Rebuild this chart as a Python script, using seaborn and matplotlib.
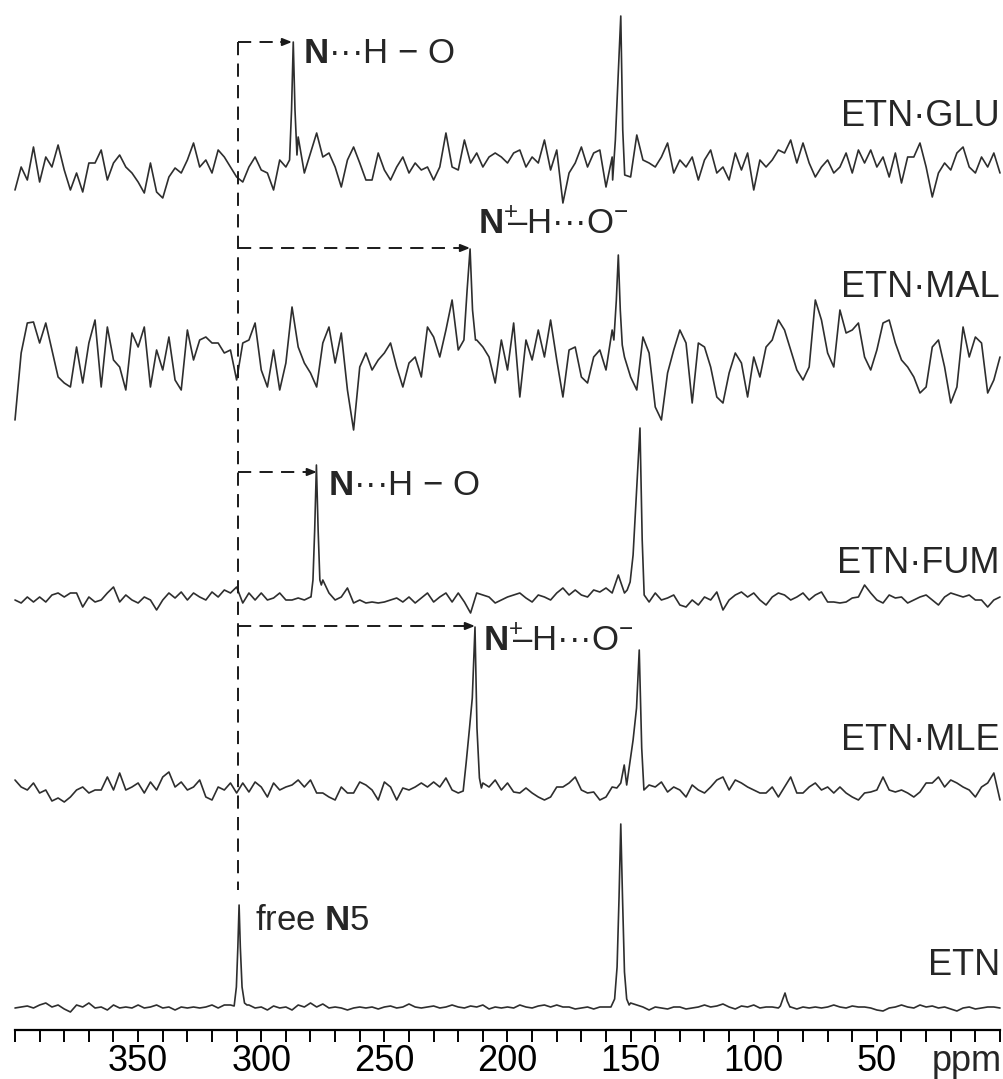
import numpy as np
import pandas as pd
import matplotlib
matplotlib.use("Agg")
import matplotlib.pyplot as plt
import seaborn as sns

# ---------------- data ----------------
# chemical-shift grid (ppm), 400 -> 0 in 2.5 ppm steps
ppm_grid = [400 - 2.5 * i for i in range(161)]

samples = ["ETN·GLU", "ETN·MAL", "ETN·FUM", "ETN·MLE", "ETN"]

# baseline noise (intensity units, one per grid point)
noise_glu = [-20, 3, -10, 23, -12, 13, 3, 25, 0, -20,
             -3, -22, 7, 7, 20, -10, 7, 15, 3, -3,
             -12, -23, 7, -22, -28, -7, 2, -3, 10, 27,
             3, 10, -3, 20, 13, 3, -7, -12, 3, 13,
             0, -3, -20, 10, 3, 0, 33, -3, 17, 37,
             13, 17, 3, -17, 10, 23, 7, -10, -10, 17,
             0, -10, 3, 13, -3, 7, 0, 3, -10, 3,
             37, 3, 0, 30, 7, 17, 3, 13, 17, 13,
             7, 17, 20, 3, 13, 7, 30, 0, 20, -33,
             -3, 7, 23, 3, 17, 20, -17, 13, 0, 0,
             -7, 35, 10, 7, 3, 13, 27, -3, 10, 3,
             13, -10, 10, 20, -3, 3, -10, 17, 0, 17,
             -20, 10, 3, 10, 20, 17, 30, 7, 27, 7,
             -7, 3, 10, -3, 3, 17, -3, 20, 7, 20,
             3, 13, -7, 17, -13, 13, 13, 27, 3, -27,
             -3, 7, 0, 17, 23, 3, -3, 13, 3, 17, -3]

noise_mal = [-70, -3, 27, 28, 7, 27, 0, -27, -33, -37,
             3, -33, 7, 30, -37, 23, -10, -17, -40, 17,
             3, 23, -37, 0, -20, 13, -30, -40, 20, -10,
             10, 13, 7, 7, -3, 0, -30, 7, 10, 27,
             -20, -37, 0, -40, -13, 43, 3, -13, -23, -37,
             7, 23, -13, 17, -40, -80, -17, -3, -20, -10,
             -3, 7, -17, -37, -13, -7, -27, 23, 13, -7,
             20, 50, 0, 17, 0, 10, 3, -7, -33, 10,
             -20, 27, -47, 10, -10, 20, -7, 30, -10, -47,
             0, 3, -27, -33, -7, 0, -20, 20, 0, -7,
             -27, -40, 13, -3, -57, -70, -23, 0, 20, 7,
             -53, 7, 3, -17, -47, -53, -23, -3, -13, -47,
             -7, -27, 3, 10, 30, 20, 0, -20, -30, -17,
             50, 30, -3, -17, 40, 17, 20, 27, -7, -20,
             0, 27, 30, 7, -10, -17, -27, -43, -37, 3,
             10, -17, -53, -37, 23, -7, 13, 7, -43, -30, -7]

noise_fum = [0, -3, 3, -2, 3, -2, 5, 7, 3, 7,
             7, -7, 3, -2, 0, 7, 13, -2, 5, 0,
             -3, 3, 0, -10, 0, 7, 2, 8, 0, 7,
             3, 0, 8, 3, 10, 7, 13, -3, 7, 0,
             7, 0, 2, 7, 0, 0, 2, 0, 3, 0,
             20, 7, 0, 3, 12, -3, 0, -3, -2, -3,
             -2, 0, 2, -2, 3, -3, 2, 7, -2, 3,
             7, -2, 7, -2, -13, 7, 5, 3, -3, 0,
             3, 5, 7, 2, -2, 5, 3, 0, 7, 12,
             5, 10, 5, 3, 10, 8, 12, 7, 25, 7,
             0, 0, 0, -2, 7, 0, 2, 5, -5, -7,
             0, -5, 3, 0, 8, -10, 0, 5, 8, 3,
             7, 0, -5, 3, 7, 5, 0, 3, 7, 0,
             5, 8, -2, -2, -3, -2, 2, 3, 15, 7,
             0, -3, 5, 2, 3, -3, 0, 3, 5, 0,
             -5, 3, 7, 5, 3, 5, 0, 0, -7, 0, 3]

noise_mle = [8, 1, -2, 5, -5, -2, -13, -10, -14, -9,
             -2, 1, -5, -2, -2, 11, -2, 15, -2, 1,
             5, -5, 6, -2, 11, 16, 1, 6, -2, 1,
             8, -9, -12, 1, -2, 5, -5, 5, -4, 6,
             1, -9, 5, -2, 1, 3, 8, 1, 8, -5,
             -5, -9, -12, 1, -5, -5, 6, 3, -2, -12,
             6, 1, -12, 0, -2, 1, 5, 1, 6, 1,
             10, -2, -5, 0, 0, 0, 5, 1, 8, -2,
             5, -4, -5, 0, -5, -9, -12, -9, 1, 1,
             5, 11, -2, -5, -4, -12, -9, 1, 0, 0,
             0, 0, 0, 3, 1, 6, -4, 1, -2, -9,
             3, -2, -5, 1, 8, 11, -2, 8, 5, 1,
             -2, -5, -5, 1, -9, 1, 11, -5, -5, 1,
             5, -2, 1, -5, 1, -5, -9, -12, -5, -4,
             -2, 11, -2, -4, -2, -5, -9, -4, 5, 5,
             11, 1, 8, 5, 1, -2, -9, 1, 5, 15, -12]

noise_etn = [-1, 0, 1, -1, 2, 4, 0, 2, -2, -5,
             2, 0, 4, -1, 0, -3, 2, -1, 0, -1,
             2, -1, 0, 2, -1, 0, -3, 0, -1, 0,
             -1, 0, 2, -1, 2, 2, 0, 0, 2, -1,
             0, -3, 1, -1, 0, -3, 2, 0, 4, 0,
             3, -1, 0, -1, -3, -1, 0, -1, 0, -2,
             0, 1, -1, 0, 3, 0, -1, 0, 1, -1,
             0, 2, 0, -1, 1, 0, 2, -2, 0, -1,
             0, -1, 2, 0, -1, 1, 2, 0, 2, 0,
             0, -2, -1, 0, -2, 0, 0, 0, 0, 0,
             4, 2, 0, -3, 0, -1, -2, 0, 0, -2,
             -1, 0, 2, 0, 1, 3, 0, -2, 1, 0,
             2, -1, 0, 0, -1, 0, 0, -2, 0, -1,
             0, -1, 0, 2, 0, -1, 1, 0, 0, -1,
             -3, -4, -1, 0, 2, 0, -1, 2, 0, 1,
             -1, 0, -2, -4, -1, 0, -2, -1, 0, 0, -1]

# resonance lines: (ppm points, intensity points)
peaks_glu = [([288.5, 287.7, 287.0, 286.3, 285.5], [10, 60, 128, 60, 15]),
             ([157.3, 156.2, 155.3, 154.0, 153.2, 152.4], [-10, 30, 80, 154, 40, -5])]
peaks_mal = [([217.7, 216.4, 215.2, 214.2, 213.0], [10, 60, 101, 40, 10]),
             ([156.8, 155.8, 155.0, 154.2, 153.4], [10, 50, 95, 40, 5])]
peaks_fum = [([279.8, 279.0, 278.3, 277.6, 276.9, 276.2, 275.6], [3, 20, 70, 135, 70, 20, 15]),
             ([151.4, 150.2, 149.0, 147.8, 146.2, 145.3, 144.5], [10, 18, 45, 100, 172, 60, 5])]
peaks_mle = [([218.0, 216.8, 215.5, 214.3, 213.2, 212.4, 211.4, 210.6], [-3, 25, 58, 90, 161, 60, 10, 0]),
             ([155.6, 154.0, 152.6, 151.6, 150.6, 149.0, 147.6, 146.5, 145.5, 144.6],
              [0, 5, 23, 3, 20, 48, 80, 138, 40, -2])]
peaks_etn = [([311.0, 310.1, 309.5, 309.0, 308.5, 307.8, 306.8, 305.8], [1, 20, 60, 102, 60, 20, 4, 2]),
             ([158.0, 156.5, 155.5, 154.7, 154.0, 153.3, 152.5, 151.6, 150.6], [0, 8, 40, 110, 183, 110, 35, 8, 2]),
             ([89.2, 88.2, 87.3, 86.4, 85.3], [1, 8, 14, 6, 0])]

noises = [noise_glu, noise_mal, noise_fum, noise_mle, noise_etn]
peaks = [peaks_glu, peaks_mal, peaks_fum, peaks_mle, peaks_etn]

# vertical stacking offsets of the traces (layout)
offsets = [860, 680, 430, 242, 23]

# ---------------- build table ----------------
rows = []
for name, nz, pk, off in zip(samples, noises, peaks, offsets):
    gx = np.array(ppm_grid, dtype=float)
    gy = np.array(nz, dtype=float)
    keep = np.ones(len(gx), bool)
    for px, py in pk:
        keep &= ~((gx > min(px)) & (gx < max(px)))
    xs = list(gx[keep])
    ys = list(gy[keep])
    for px, py in pk:
        xs += list(px)
        ys += list(py)
    for a, b in zip(xs, ys):
        rows.append({"ppm": a, "y": b + off, "sample": name})
df = pd.DataFrame(rows)

# ---------------- style ----------------
sns.set_style("white")
plt.rcParams["font.family"] = ["Liberation Sans", "DejaVu Sans"]
plt.rcParams["mathtext.fontset"] = "custom"
plt.rcParams["mathtext.rm"] = "Liberation Sans"
plt.rcParams["mathtext.bf"] = "Liberation Sans:bold"
plt.rcParams["lines.scale_dashes"] = False

W, H = 1004, 1079
fig = plt.figure(figsize=(W / 100, H / 100), dpi=100)
ax = fig.add_axes([15 / W, 49 / H, 985 / W, 1030 / H])

line_c = "#2e2e2e"
sns.lineplot(data=df, x="ppm", y="y", hue="sample", palette=[line_c] * 5,
             estimator=None, sort=True, legend=False, linewidth=1.2, ax=ax)
for ln in ax.lines:
    ln.set_clip_on(False)

ax.set_xlim(400, 0)
ax.set_ylim(0, 1030)
ax.set_xlabel("")
ax.set_ylabel("")
ax.set_yticks([])
for s in ["top", "left", "right"]:
    ax.spines[s].set_visible(False)
ax.spines["bottom"].set_linewidth(1.6)
ax.spines["bottom"].set_color("black")

major = list(range(400, -1, -10))
labels = [str(v) if v in (350, 300, 250, 200, 150, 100, 50) else "" for v in major]
ax.set_xticks(major, labels)
ax.set_xticks([13.4], ["ppm"], minor=True)
ax.tick_params(axis="x", which="major", direction="out", length=8.5, width=1.4,
               pad=1.5, labelsize=26, colors="black", bottom=True)
ax.tick_params(axis="x", which="minor", length=0, pad=10, labelsize=26, bottom=True)

# ---------------- annotations ----------------
dash_c = "#1a1a1a"
dash = (0, (9.5, 6))
ref_ppm = 309.3
ax.plot([ref_ppm, ref_ppm], [988, 140], color=dash_c, lw=1.4, ls=dash, clip_on=False)

arrows = [(988, 287.5), (782, 215.2), (558, 277.4), (404, 213.2)]
for yy, end in arrows:
    ax.plot([ref_ppm, end + 3.5], [yy, yy], color=dash_c, lw=1.4, ls=dash, clip_on=False)
    ax.annotate("", xy=(end, yy), xytext=(end + 4.5, yy),
                arrowprops=dict(arrowstyle="-|>,head_length=0.55,head_width=0.22",
                                color=dash_c, lw=1.4, shrinkA=0, shrinkB=0))

fs_ann = 25
hbond = r"$\mathbf{N}$···H − O"
ionic = r"$\mathbf{N}^{+}\!\!$–H···O$^{-}$"
ax.text(283.0, 967, hbond, fontsize=fs_ann, va="baseline", ha="left")
ax.text(272.9, 535, hbond, fontsize=fs_ann, va="baseline", ha="left")
ax.text(212.0, 797, ionic, fontsize=fs_ann, va="baseline", ha="left")
ax.text(210.0, 380, ionic, fontsize=fs_ann, va="baseline", ha="left")
ax.text(302.5, 100, r"free $\mathbf{N}$5", fontsize=fs_ann, va="baseline", ha="left")

# sample names
name_y = [904, 733, 457, 280, 55]
for name, yy in zip(samples, name_y):
    ax.text(0, yy, name, fontsize=26, va="baseline", ha="right")

fig.savefig("out.png", dpi=100)
